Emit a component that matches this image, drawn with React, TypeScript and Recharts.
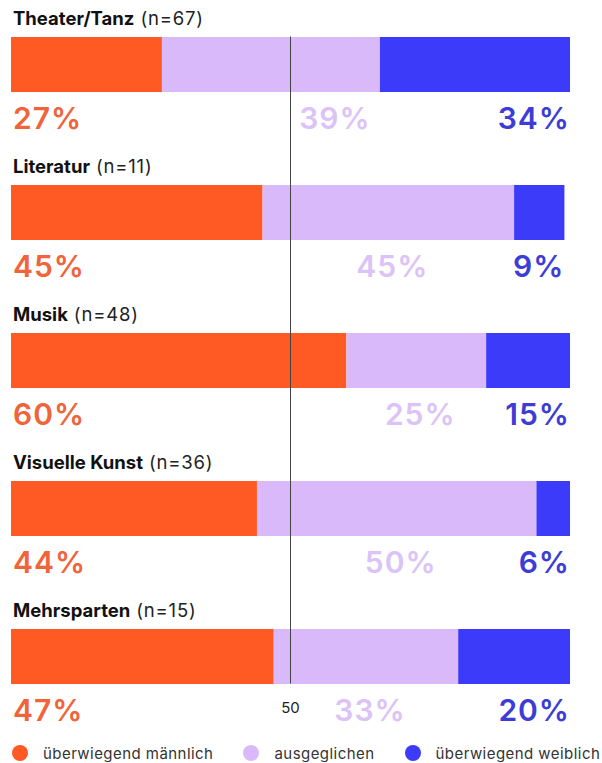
import React from 'react';
import { BarChart, Bar, XAxis, YAxis, ReferenceLine } from 'recharts';

const categories = ['Theater/Tanz', 'Literatur', 'Musik', 'Visuelle Kunst', 'Mehrsparten'];
const counts = [67, 11, 48, 36, 15];
const male = [27, 45, 60, 44, 47];
const balanced = [39, 45, 25, 50, 33];
const female = [34, 9, 15, 6, 20];
const seriesNames = ['überwiegend männlich', 'ausgeglichen', 'überwiegend weiblich'];

const FONT = 'Inter, "Liberation Sans", Arial, sans-serif';
const BAR_COLORS = ['#FF5A23', '#DAB9FB', '#3B3BF9'];
const LABEL_COLORS = ['#F0643A', '#DCC3F7', '#3D3DD6'];
const BAR_SIZE = 55;

const data = categories.map((name, i) => ({
  name,
  n: counts[i],
  male: male[i],
  balanced: balanced[i],
  female: female[i],
}));

const pctStyle = { fontFamily: FONT, fontSize: 30, fontWeight: 600, letterSpacing: 1 };

// orange segment + category title above + left percent below
const MaleShape = (props: any) => {
  const { x, y, width, height, payload } = props;
  return (
    <g>
      <rect x={x} y={y} width={width} height={height} fill={BAR_COLORS[0]} />
      <text x={x + 2} y={y - 12} style={{ fontFamily: FONT, fontSize: 18.5 }} fill="#111">
        <tspan fontWeight={700}>{payload.name}</tspan>
        <tspan fontWeight={400} fill="#222" letterSpacing={0.8}> (n={payload.n})</tspan>
      </text>
      <text x={x + 2} y={y + height + 37} fill={LABEL_COLORS[0]} style={pctStyle}>
        {payload.male}%
      </text>
    </g>
  );
};

const BalancedShape = (props: any) => {
  const { x, y, width, height, payload } = props;
  // keep the label right of the 50 line
  const cx = Math.max(x + width / 2 + 4, 335);
  return (
    <g>
      <rect x={x} y={y} width={width} height={height} fill={BAR_COLORS[1]} />
      <text x={cx} y={y + height + 37} textAnchor="middle" fill={LABEL_COLORS[1]} style={pctStyle}>
        {payload.balanced}%
      </text>
    </g>
  );
};

const FemaleShape = (props: any) => {
  const { x, y, width, height, payload } = props;
  return (
    <g>
      <rect x={x} y={y} width={width} height={height} fill={BAR_COLORS[2]} />
      <text x={x + width} y={y + height + 37} textAnchor="end" fill={LABEL_COLORS[2]} style={pctStyle}>
        {payload.female}%
      </text>
    </g>
  );
};

const MidLine = (props: any) => {
  const top = Math.min(props.y1, props.y2);
  const bottom = Math.max(props.y1, props.y2);
  const x = props.x1;
  const band = (bottom - top) / categories.length;
  const inset = (band - BAR_SIZE) / 2;
  return (
    <g>
      <line x1={x} x2={x} y1={top + inset} y2={bottom - inset} stroke="#444" strokeWidth={1} />
      <text x={x} y={bottom - inset + 29} textAnchor="middle" fill="#222" style={{ fontFamily: FONT, fontSize: 15 }}>
        50
      </text>
    </g>
  );
};

const App = () => {
  return (
    <div style={{ position: 'absolute', left: 0, top: 0, width: 602, height: 763, background: '#fff' }}>
      <BarChart
        width={602}
        height={763}
        data={data}
        layout="vertical"
        margin={{ top: -10, right: 32, bottom: 33, left: 11 }}
      >
        <XAxis type="number" domain={[0, 100]} hide />
        <YAxis type="category" dataKey="name" hide />
        <Bar dataKey="male" stackId="a" barSize={BAR_SIZE} fill={BAR_COLORS[0]} shape={MaleShape} isAnimationActive={false} />
        <Bar dataKey="balanced" stackId="a" barSize={BAR_SIZE} fill={BAR_COLORS[1]} shape={BalancedShape} isAnimationActive={false} />
        <Bar dataKey="female" stackId="a" barSize={BAR_SIZE} fill={BAR_COLORS[2]} shape={FemaleShape} isAnimationActive={false} />
        <ReferenceLine x={50} shape={MidLine} />
      </BarChart>
      <div
        style={{
          position: 'absolute',
          left: 12,
          top: 744,
          display: 'flex',
          gap: 30,
          fontFamily: FONT,
          fontSize: 15,
          letterSpacing: 0.45,
          color: '#333',
        }}
      >
        {seriesNames.map((s, i) => (
          <div key={s} style={{ display: 'flex', alignItems: 'center', gap: 15, height: 18 }}>
            <div style={{ width: 16, height: 16, borderRadius: 8, background: BAR_COLORS[i] }} />
            <span>{s}</span>
          </div>
        ))}
      </div>
    </div>
  );
};

export default App;
